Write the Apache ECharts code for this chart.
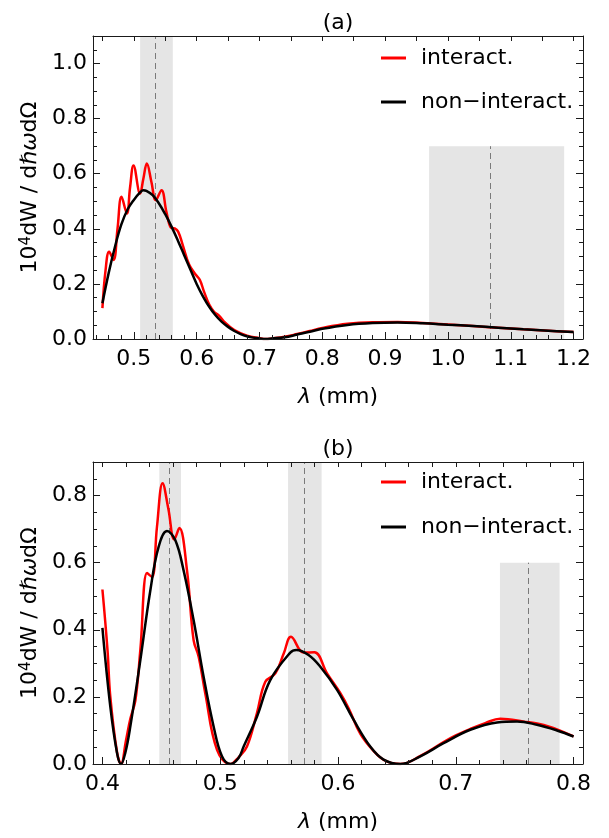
<!DOCTYPE html>
<html>
<head>
<meta charset="utf-8">
<script src="https://cdn.jsdelivr.net/npm/echarts@6/dist/echarts.min.js"></script>
<style>
  html, body { margin: 0; padding: 0; background: #fff; }
  #chart { width: 609px; height: 838px; }
</style>
</head>
<body>
<div id="chart"></div>
<script>
// ---- panel (a) ----
const lamRedA = [0.450, 0.455, 0.4607, 0.4677, 0.474, 0.4804, 0.4889, 0.494, 0.4995, 0.510, 0.515, 0.5207, 0.528, 0.535, 0.544, 0.552, 0.5589, 0.5645, 0.5705, 0.578, 0.588, 0.5986, 0.605, 0.612, 0.620, 0.628, 0.6356, 0.645, 0.66, 0.68, 0.70, 0.71, 0.72, 0.74, 0.76, 0.78, 0.80, 0.84, 0.88, 0.92, 0.96, 1.00, 1.04, 1.08, 1.12, 1.16, 1.20]
const redA = [0.112, 0.25, 0.317, 0.287, 0.40, 0.516, 0.456, 0.55, 0.630, 0.528, 0.58, 0.637, 0.57, 0.504, 0.540, 0.46, 0.405, 0.402, 0.39, 0.34, 0.27, 0.233, 0.215, 0.17, 0.125, 0.098, 0.085, 0.06, 0.032, 0.012, 0.003, 0.0, 0.002, 0.008, 0.018, 0.029, 0.040, 0.055, 0.061, 0.062, 0.058, 0.053, 0.047, 0.041, 0.035, 0.030, 0.025]
const lamBlackA = [0.45, 0.46, 0.47, 0.48, 0.49, 0.50, 0.51, 0.515, 0.52, 0.53, 0.54, 0.55, 0.56, 0.57, 0.58, 0.59, 0.60, 0.61, 0.62, 0.63, 0.64, 0.65, 0.66, 0.67, 0.68, 0.69, 0.70, 0.71, 0.72, 0.74, 0.76, 0.78, 0.80, 0.84, 0.88, 0.92, 0.96, 1.00, 1.04, 1.08, 1.12, 1.16, 1.20]
const blackA = [0.13, 0.24, 0.335, 0.415, 0.47, 0.505, 0.532, 0.540, 0.538, 0.522, 0.492, 0.453, 0.408, 0.358, 0.305, 0.252, 0.200, 0.155, 0.117, 0.086, 0.062, 0.044, 0.029, 0.018, 0.010, 0.005, 0.002, 0.000, 0.002, 0.006, 0.016, 0.026, 0.037, 0.051, 0.058, 0.060, 0.057, 0.052, 0.047, 0.041, 0.035, 0.030, 0.025]
const bandFromA = [0.51, 0.97]
const bandToA = [0.562, 1.185]
const bandTopA = [1.1, 0.7]
const dashA = [0.534, 1.0666]
const xTicksA = [0.5, 0.6, 0.7, 0.8, 0.9, 1.0, 1.1, 1.2]
const yTicksA = [0, 0.2, 0.4, 0.6, 0.8, 1.0]

// ---- panel (b) ----
const lamRedB = [0.400, 0.4043, 0.4067, 0.4124, 0.4158, 0.4200, 0.4237, 0.428, 0.4322, 0.4379, 0.4421, 0.4463, 0.4511, 0.456, 0.461, 0.4653, 0.4718, 0.4774, 0.4817, 0.4873, 0.4973, 0.5086, 0.5156, 0.5227, 0.5312, 0.5383, 0.5468, 0.554, 0.5601, 0.5708, 0.5799, 0.5907, 0.602, 0.609, 0.619, 0.630, 0.640, 0.6529, 0.670, 0.690, 0.700, 0.712, 0.725, 0.7378, 0.757, 0.778, 0.800]
const redB = [0.52, 0.34, 0.20, 0.035, 0.0, 0.07, 0.135, 0.19, 0.34, 0.569, 0.557, 0.706, 0.837, 0.76, 0.669, 0.703, 0.577, 0.369, 0.32, 0.211, 0.042, 0.0, 0.02, 0.052, 0.152, 0.245, 0.27, 0.33, 0.379, 0.332, 0.333, 0.27, 0.211, 0.166, 0.09, 0.04, 0.01, 0.0, 0.024, 0.066, 0.085, 0.104, 0.122, 0.135, 0.127, 0.113, 0.082]
const lamBlackB = [0.400, 0.4067, 0.4124, 0.4158, 0.4194, 0.4237, 0.4322, 0.4407, 0.4477, 0.4548, 0.4619, 0.4689, 0.4774, 0.4859, 0.4944, 0.5015, 0.5086, 0.5156, 0.5199, 0.5312, 0.5425, 0.5595, 0.5646, 0.575, 0.585, 0.5992, 0.6132, 0.6274, 0.6387, 0.6529, 0.6699, 0.6896, 0.7123, 0.735, 0.752, 0.7689, 0.7859, 0.800]
const blackB = [0.406, 0.171, 0.033, 0.0, 0.033, 0.112, 0.31, 0.518, 0.647, 0.694, 0.667, 0.577, 0.429, 0.26, 0.112, 0.023, 0.0, 0.018, 0.052, 0.141, 0.25, 0.332, 0.34, 0.325, 0.29, 0.221, 0.132, 0.052, 0.013, 0.0, 0.023, 0.062, 0.102, 0.124, 0.127, 0.117, 0.1, 0.082]
const bandFromB = [0.4483, 0.5576, 0.7375]
const bandToB = [0.4667, 0.5861, 0.7881]
const bandTopB = [0.9, 0.9, 0.6]
const dashB = [0.457, 0.5714, 0.7618]
const xTicksB = [0.4, 0.5, 0.6, 0.7, 0.8]
const yTicksB = [0, 0.2, 0.4, 0.6, 0.8]

const nameRed = 'interact.'
const nameBlack = 'non\u2212interact.'

const FONT = 'DejaVu Sans'
const axisColor = '#1a1a1a'

// tick positions between start and end, optionally without the major ones
const steps = (a, b, step, skip = []) => {
  const out = []
  for (let v = a; v <= b + 1e-9; v += step) {
    const r = +v.toFixed(4)
    if (!skip.some((m) => Math.abs(m - r) < 1e-6)) out.push(r)
  }
  return out
}
const zip = (xs, ys) => xs.map((x, i) => [x, ys[i]])

const panels = [
  {
    title: '(a)', xMin: 0.435, xMax: 1.215, yMax: 1.1, top: 36, height: 303, legendTop: 47, legendGap: 22,
    xMajor: xTicksA, xMinor: steps(0.44, 1.2, 0.02, xTicksA), xTop: steps(0.45, 1.2, 0.05),
    yMajor: yTicksA, yMinor: steps(0.05, 1.05, 0.05, yTicksA),
    red: zip(lamRedA, redA), black: zip(lamBlackA, blackA),
    bands: bandFromA.map((f, i) => [{ coord: [f, 0] }, { coord: [bandToA[i], bandTopA[i]] }]),
    dashes: dashA.map((d, i) => [{ coord: [d, 0] }, { coord: [d, bandTopA[i]] }]),
  },
  {
    title: '(b)', xMin: 0.392, xMax: 0.808, yMax: 0.9, top: 462, height: 302, legendTop: 471, legendGap: 23,
    xMajor: xTicksB, xMinor: steps(0.42, 0.78, 0.02, xTicksB), xTop: steps(0.4, 0.8, 0.02),
    yMajor: yTicksB, yMinor: steps(0.05, 0.85, 0.05, yTicksB),
    red: zip(lamRedB, redB), black: zip(lamBlackB, blackB),
    bands: bandFromB.map((f, i) => [{ coord: [f, 0] }, { coord: [bandToB[i], bandTopB[i]] }]),
    dashes: dashB.map((d, i) => [{ coord: [d, 0] }, { coord: [d, bandTopB[i]] }]),
  },
]

const tickText = { fontFamily: FONT, fontSize: 22, color: '#000' }
const line = { color: axisColor, width: 1 }

const xAxes = []
const yAxes = []
panels.forEach((p, i) => {
  const cx = { gridIndex: i, type: 'value', min: p.xMin, max: p.xMax, z: 4, silent: true,
    splitLine: { show: false }, axisLabel: { show: false } }
  xAxes.push(
    { ...cx, position: 'bottom',
      axisLine: { show: true, onZero: false, lineStyle: line },
      axisTick: { show: true, inside: true, length: 7, customValues: p.xMajor, lineStyle: line },
      axisLabel: { show: true, customValues: p.xMajor, formatter: (v) => v.toFixed(1), margin: 9, ...tickText },
      name: '{i|λ} (mm)', nameLocation: 'middle', nameGap: 47,
      nameTextStyle: { ...tickText, rich: { i: { ...tickText, fontStyle: 'italic' } } } },
    { ...cx, position: 'bottom', axisLine: { show: false, onZero: false },
      axisTick: { show: true, inside: true, length: 4, customValues: p.xMinor, lineStyle: line } },
    { ...cx, position: 'top',
      axisLine: { show: true, onZero: false, lineStyle: line },
      axisTick: { show: true, inside: true, length: 5, customValues: p.xTop, lineStyle: line },
      name: p.title, nameLocation: 'middle', nameGap: 2, nameTextStyle: tickText },
  )
  const cy = { gridIndex: i, type: 'value', min: 0, max: p.yMax, z: 4, silent: true,
    splitLine: { show: false }, axisLabel: { show: false } }
  yAxes.push(
    { ...cy, position: 'left',
      axisLine: { show: true, onZero: false, lineStyle: line },
      axisTick: { show: true, inside: true, length: 7, customValues: p.yMajor, lineStyle: line },
      axisLabel: { show: true, customValues: p.yMajor, formatter: (v) => v.toFixed(1), margin: 6, ...tickText },
      name: '10{sup|4}dW / d{it|ℏω}dΩ', nameLocation: 'middle', nameGap: 52,
      nameTextStyle: { ...tickText, rich: {
        sup: { fontFamily: FONT, fontSize: 15, color: '#000', verticalAlign: 'top' },
        it: { ...tickText, fontStyle: 'italic' },
      } } },
    { ...cy, position: 'left', axisLine: { show: false, onZero: false },
      axisTick: { show: true, inside: true, length: 4, customValues: p.yMinor, lineStyle: line } },
    { ...cy, position: 'right',
      axisLine: { show: true, onZero: false, lineStyle: line },
      axisTick: { show: true, inside: true, length: 7, customValues: p.yMajor, lineStyle: line } },
    { ...cy, position: 'right', axisLine: { show: false, onZero: false },
      axisTick: { show: true, inside: true, length: 4, customValues: p.yMinor, lineStyle: line } },
  )
})

const series = []
panels.forEach((p, i) => {
  const common = { type: 'line', xAxisIndex: i * 3, yAxisIndex: i * 4, symbol: 'none', smooth: 0.4,
    silent: true, animation: false, emphasis: { disabled: true }, clip: true }
  series.push(
    { ...common, name: nameRed, data: p.red, z: 3,
      lineStyle: { color: '#ff0000', width: 2.5 }, itemStyle: { color: '#ff0000' },
      markArea: { silent: true, z: 1, itemStyle: { color: '#e5e5e5', opacity: 1 }, label: { show: false },
        data: p.bands },
      markLine: { silent: true, z: 2, symbol: ['none', 'none'], label: { show: false },
        lineStyle: { color: '#7a7a7a', width: 1, type: [6, 4] }, emphasis: { disabled: true },
        data: p.dashes } },
    { ...common, name: nameBlack, data: p.black, z: 3,
      lineStyle: { color: '#000000', width: 2.5 }, itemStyle: { color: '#000000' } },
  )
})

const chart = echarts.init(document.getElementById('chart'))
chart.setOption({
  animation: false,
  backgroundColor: '#fff',
  textStyle: { fontFamily: FONT },
  grid: panels.map((p) => ({ left: 93, right: 26, top: p.top, height: p.height,
    containLabel: false, outerBoundsMode: 'none' })),
  legend: panels.map((p) => ({
    orient: 'vertical', left: 381, top: p.legendTop, padding: 0,
    itemWidth: 25, itemHeight: 3, itemGap: p.legendGap, icon: 'rect', selectedMode: false,
    data: [nameRed, nameBlack],
    textStyle: { ...tickText, padding: [0, 0, 0, 10] },
  })),
  xAxis: xAxes,
  yAxis: yAxes,
  series,
})
</script>
</body>
</html>
